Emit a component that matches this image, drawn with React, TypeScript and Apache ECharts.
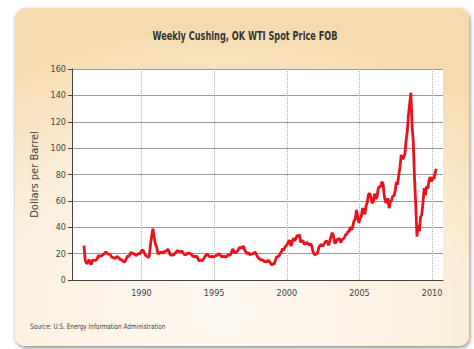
import React, { useEffect, useRef } from "react";
import * as echarts from "echarts";

const title = "Weekly Cushing, OK WTI Spot Price FOB";
const yAxisName = "Dollars per Barrel";
const sourceNote = "Source: U.S. Energy Information Administration";
const startYear = 1986;
const yearTicks = [1990, 1995, 2000, 2005, 2010];

// Monthly prices (dollars per barrel), Jan 1986 .. Apr 2010
const prices1986 = [26.0, 15.4, 12.6, 12.8, 15.4, 13.4, 11.6, 15.1, 14.9, 14.9, 15.2, 16.1];
const prices1987 = [18.7, 17.7, 18.3, 18.6, 19.4, 20.0, 21.4, 20.3, 19.5, 19.8, 18.9, 17.2];
const prices1988 = [17.1, 16.7, 16.2, 17.9, 17.4, 16.5, 15.5, 15.5, 14.5, 13.8, 14.0, 16.3];
const prices1989 = [18.0, 17.9, 19.4, 21.0, 20.0, 20.0, 19.6, 18.4, 19.4, 19.9, 19.8, 21.1];
const prices1990 = [22.9, 22.1, 20.4, 18.4, 18.2, 16.9, 18.6, 27.2, 33.7, 39.0, 32.3, 27.3];
const prices1991 = [25.2, 20.5, 19.9, 20.8, 21.2, 20.2, 21.4, 21.7, 21.9, 23.2, 22.5, 19.5];
const prices1992 = [18.8, 19.0, 18.9, 20.2, 20.9, 22.4, 21.8, 21.4, 21.9, 21.7, 20.3, 19.4];
const prices1993 = [19.1, 20.1, 20.3, 20.3, 19.9, 19.1, 17.9, 18.0, 17.5, 18.1, 16.7, 14.5];
const prices1994 = [15.0, 14.8, 14.7, 16.4, 17.9, 19.1, 19.7, 18.4, 17.5, 17.7, 18.1, 17.2];
const prices1995 = [18.0, 18.5, 18.6, 19.9, 19.7, 18.4, 17.3, 17.9, 18.0, 17.4, 18.0, 19.0];
const prices1996 = [18.9, 19.1, 21.4, 23.6, 21.2, 20.5, 21.3, 22.0, 24.0, 24.9, 23.7, 25.4];
const prices1997 = [25.2, 22.2, 21.0, 19.7, 20.8, 19.2, 19.6, 19.9, 19.8, 21.3, 20.2, 18.3];
const prices1998 = [16.7, 16.1, 15.0, 15.4, 14.9, 13.7, 14.2, 13.5, 15.0, 14.4, 12.9, 11.3];
const prices1999 = [12.5, 12.0, 14.7, 17.3, 17.8, 17.9, 20.1, 21.3, 23.9, 22.6, 25.0, 26.1];
const prices2000 = [27.2, 29.4, 29.9, 25.7, 28.8, 31.8, 29.7, 31.3, 33.9, 33.1, 34.4, 28.5];
const prices2001 = [29.6, 29.6, 27.2, 27.4, 28.6, 27.6, 26.4, 27.4, 26.2, 22.2, 19.6, 19.3];
const prices2002 = [19.7, 20.7, 24.5, 26.2, 27.0, 25.5, 26.9, 28.4, 29.7, 28.9, 26.3, 29.4];
const prices2003 = [32.9, 35.9, 33.5, 28.3, 28.1, 30.7, 30.8, 31.6, 28.3, 30.3, 31.1, 32.1];
const prices2004 = [34.3, 34.7, 36.7, 36.7, 40.3, 38.0, 40.7, 44.9, 45.9, 53.1, 48.5, 43.3];
const prices2005 = [46.8, 48.0, 54.3, 53.0, 49.8, 56.3, 59.0, 65.0, 65.6, 62.4, 58.3, 59.4];
const prices2006 = [65.5, 61.6, 62.7, 69.4, 70.8, 70.9, 74.4, 73.0, 63.8, 58.9, 59.1, 62.0];
const prices2007 = [54.5, 59.3, 60.4, 63.9, 63.5, 67.5, 74.1, 72.4, 79.9, 85.8, 94.8, 91.7];
const prices2008 = [93.0, 95.4, 105.5, 112.6, 125.4, 133.9, 142.0, 116.7, 104.1, 76.6, 57.3, 33.0];
const prices2009 = [41.7, 37.0, 47.9, 49.6, 59.0, 69.6, 64.2, 71.1, 69.4, 75.7, 78.0, 74.5];
const prices2010 = [78.3, 76.4, 81.2, 84.3];

const allYears = [
  prices1986, prices1987, prices1988, prices1989, prices1990, prices1991, prices1992,
  prices1993, prices1994, prices1995, prices1996, prices1997, prices1998, prices1999,
  prices2000, prices2001, prices2002, prices2003, prices2004, prices2005, prices2006,
  prices2007, prices2008, prices2009, prices2010,
];

function buildSeries(): [number, number][] {
  const out: [number, number][] = [];
  allYears.forEach((arr, yi) => {
    arr.forEach((v, m) => {
      out.push([startYear + yi + (m + 0.5) / 12, v]);
    });
  });
  return out;
}

const FONT = "'DejaVu Sans Condensed', 'Liberation Sans Narrow', sans-serif";

export default function App() {
  const ref = useRef<HTMLDivElement>(null);
  useEffect(() => {
    if (!ref.current) return;
    const chart = echarts.init(ref.current, null, { renderer: "svg" });
    chart.setOption({
      animation: false,
      backgroundColor: "#ffffff",
      graphic: [
        {
          type: "rect",
          z: -10,
          shape: { x: 15, y: 8, width: 454, height: 338, r: 10 },
          style: {
            fill: new echarts.graphic.RadialGradient(0.45, 0.9, 0.85, [
              { offset: 0, color: "#fef9f2" },
              { offset: 0.55, color: "#fcf1e0" },
              { offset: 1, color: "#f6dbae" },
            ]),
            shadowBlur: 4,
            shadowOffsetY: 2,
            shadowOffsetX: 1,
            shadowColor: "rgba(0,0,0,0.45)",
          },
        },
        {
          type: "text",
          x: 245,
          y: 36,
          scaleX: 0.76,
          style: {
            text: title,
            fontSize: 12,
            fontWeight: "bold",
            fontFamily: FONT,
            fill: "#333",
            align: "center",
            verticalAlign: "middle",
          },
        },
        {
          type: "text",
          x: 30,
          y: 327,
          scaleX: 0.85,
          style: {
            text: sourceNote,
            fontSize: 7.5,
            fontFamily: FONT,
            fill: "#444",
            verticalAlign: "middle",
          },
        },
      ],
      grid: {
        left: 72,
        top: 69,
        right: 31,
        bottom: 69,
        show: true,
        backgroundColor: "#ffffff",
        borderWidth: 0,
      },
      xAxis: {
        type: "value",
        min: 1985.22,
        max: 2010.75,
        axisLine: { show: true, lineStyle: { color: "#444", width: 1 } },
        axisTick: { show: false, customValues: yearTicks },
        axisLabel: {
          customValues: yearTicks,
          formatter: (v: number) => String(Math.round(v)),
          fontSize: 9,
          fontFamily: FONT,
          color: "#444",
          margin: 8,
        },
        splitLine: { show: false },
      },
      yAxis: {
        type: "value",
        min: 0,
        max: 160,
        interval: 20,
        name: yAxisName,
        nameLocation: "middle",
        nameRotate: 90,
        nameGap: 29,
        nameTextStyle: { fontSize: 11, fontFamily: FONT, color: "#444" },
        axisLine: { show: true, lineStyle: { color: "#444", width: 1 } },
        axisTick: { show: true, length: 4, lineStyle: { color: "#444" } },
        axisLabel: { fontSize: 9, fontFamily: FONT, color: "#444", margin: 6 },
        splitLine: { show: true, lineStyle: { color: "#9a9a9a", width: 1 } },
      },
      series: [
        {
          type: "line",
          data: buildSeries(),
          showSymbol: false,
          lineStyle: { color: "#e8131b", width: 2.8 },
          itemStyle: { color: "#e8131b" },
          markLine: {
            silent: true,
            symbol: "none",
            label: { show: false },
            lineStyle: { color: "#b5b5b5", type: "dotted", width: 1 },
            data: yearTicks.map((y) => ({ xAxis: y })),
            z: 1,
          },
          z: 3,
        },
      ],
    });
    return () => chart.dispose();
  }, []);
  return (
    <div
      ref={ref}
      style={{ position: "fixed", left: 0, top: 0, width: 474, height: 349 }}
    />
  );
}
